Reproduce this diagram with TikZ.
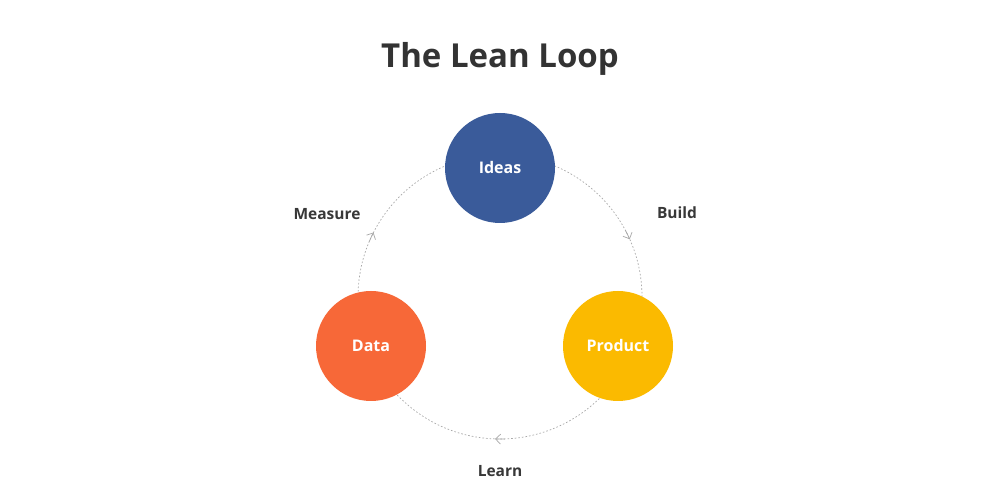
\documentclass[tikz,border=0pt]{standalone}
\usepackage{fontspec}
\setmainfont{Open Sans}
\usetikzlibrary{arrows.meta}
\definecolor{ideasblue}{HTML}{3A5B9A}
\definecolor{dataorange}{HTML}{F76838}
\definecolor{productyellow}{HTML}{FBBA00}
\definecolor{txtdark}{HTML}{333333}
\definecolor{labeldark}{HTML}{383838}
\definecolor{loopgray}{HTML}{A8A8A8}
\tikzset{
  x=1pt, y=1pt,
  stage/.style={circle, minimum size=110pt, inner sep=0pt, text=white,
    font=\fontsize{16}{18}\selectfont\bfseries},
  looplabel/.style={text=labeldark, font=\fontsize{15.5}{18}\selectfont\bfseries},
  loopline/.style={draw=loopgray, line width=0.7pt, dash pattern=on 1.6pt off 2pt},
  looptip/.style={draw=loopgray, line width=0.7pt, -{Straight Barb[length=5pt,width=10pt]}},
}
\begin{document}
\begin{tikzpicture}
\useasboundingbox (0,0) rectangle (1000,502);
\fill[white] (0,0) rectangle (1000,502);
\coordinate (loopc) at (500,205);
\draw[loopline] (loopc) circle[radius=142];
\foreach \a in {24,153,268} {
  \draw[looptip] ([shift={(\a+4:142)}]loopc) arc[start angle=\a+4, end angle=\a, radius=142];
}
\node[stage, fill=ideasblue] (ideas) at (500,334) {Ideas};
\node[stage, fill=productyellow] (product) at (618,156) {Product};
\node[stage, fill=dataorange] (data) at (371,156) {Data};
\node[text=txtdark, font=\fontsize{33}{36}\selectfont\bfseries] (title) at (500,443) {The Lean Loop};
\node[looplabel] (build) at (677,289) {Build};
\node[looplabel] (learn) at (500,31) {Learn};
\node[looplabel] (measure) at (327,288) {Measure};
\end{tikzpicture}
\end{document}
